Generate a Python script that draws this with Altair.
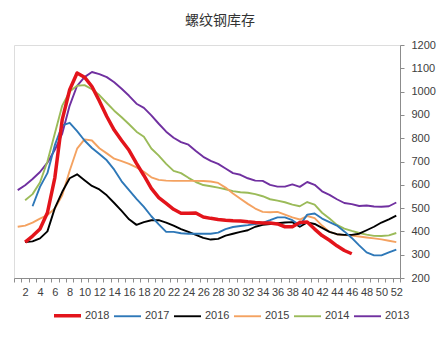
import altair as alt
import pandas as pd

# ---- data ----
years = ["2018", "2017", "2016", "2015", "2014", "2013"]
colors = ["#E3141B", "#2E78B8", "#000000", "#F4A261", "#9BBB59", "#7030A0"]
widths = [3.5, 1.9, 1.9, 1.9, 1.9, 1.9]

start_2018 = 2
v2018 = [354, 380, 410, 480, 630, 880, 1008, 1080, 1062, 1022, 960, 893, 835, 790, 748,
         692, 640, 585, 545, 520, 495, 478, 478, 479, 462, 456, 451, 448, 446, 445, 441,
         438, 436, 436, 432, 420, 420, 438, 440, 410, 382, 362, 338, 318, 304]

start_2017 = 3
v2017 = [508, 591, 650, 770, 855, 866, 830, 790, 758, 732, 705, 665, 615, 577, 540, 505,
         465, 430, 398, 398, 392, 390, 390, 390, 390, 395, 410, 419, 423, 427, 432, 437,
         448, 460, 460, 448, 426, 472, 477, 455, 440, 425, 400, 372, 340, 310, 297, 297,
         310, 322]

start_2016 = 2
v2016 = [354, 357, 370, 400, 500, 570, 628, 645, 620, 595, 580, 555, 522, 488, 452, 428,
         440, 448, 448, 438, 425, 410, 398, 385, 372, 365, 368, 382, 390, 398, 405, 420,
         428, 432, 435, 438, 440, 420, 438, 432, 415, 398, 388, 385, 385, 390, 405, 420,
         438, 452, 468]

start_2015 = 1
v2015 = [420, 425, 438, 455, 470, 498, 555, 660, 755, 795, 790, 757, 735, 712, 702, 690,
         675, 656, 632, 621, 618, 617, 617, 617, 617, 616, 614, 608, 588, 563, 540, 518,
         498, 484, 482, 484, 472, 460, 451, 466, 457, 425, 398, 388, 384, 382, 378, 374,
         370, 366, 360, 354]

start_2014 = 2
v2014 = [534, 560, 610, 700, 820, 940, 1000, 1025, 1028, 1010, 985, 951, 918, 890, 860,
         828, 806, 756, 725, 690, 660, 650, 630, 612, 599, 594, 588, 581, 573, 568, 566,
         560, 551, 538, 532, 525, 515, 508, 526, 515, 480, 455, 428, 412, 402, 393, 386,
         381, 380, 383, 393]

start_2013 = 1
v2013 = [577, 598, 625, 655, 695, 750, 820, 940, 1025, 1062, 1084, 1075, 1062, 1040,
         1012, 982, 948, 930, 898, 862, 828, 802, 783, 772, 745, 720, 703, 690, 670, 650,
         643, 628, 618, 617, 600, 592, 592, 602, 591, 612, 600, 572, 557, 538, 522, 517,
         509, 511, 507, 506, 508, 524]

x_tick_values = [i + 0.5 for i in range(53)]
y_tick_values = list(range(200, 1300, 100))

series = [
    ("2013", start_2013, v2013),
    ("2014", start_2014, v2014),
    ("2015", start_2015, v2015),
    ("2016", start_2016, v2016),
    ("2017", start_2017, v2017),
    ("2018", start_2018, v2018),
]
rows = []
for name, start, vals in series:
    for i, v in enumerate(vals):
        rows.append({"year": name, "week": start + i, "value": v})
df = pd.DataFrame(rows)

legend_kw = dict(
    title=None, orient="none", legendX=38, legendY=255, direction="horizontal",
    columns=6, symbolType="stroke", symbolSize=729, labelOffset=2, columnPadding=0,
    labelFont="Liberation Sans", labelFontSize=11, labelColor="#404040",
)

chart = alt.Chart(df).mark_line(strokeJoin="round", strokeCap="butt").encode(
    x=alt.X("week:Q",
            scale=alt.Scale(domain=[0.5, 52.5], nice=False, zero=False),
            axis=alt.Axis(title=None, values=x_tick_values, grid=False,
                          labelExpr="(datum.value + 0.5) % 2 == 0 ? format(datum.value + 0.5, 'd') : ''",
                          labelOffset=3.7, labelOverlap=False, labelFlush=False,
                          labelFont="Liberation Sans", labelFontSize=11, labelColor="#404040",
                          labelPadding=4, tickSize=4, tickColor="#8C8C8C",
                          domainColor="#8C8C8C")),
    y=alt.Y("value:Q",
            scale=alt.Scale(domain=[200, 1200], nice=False, zero=False),
            axis=alt.Axis(title=None, orient="right", values=y_tick_values, grid=False,
                          format="d",
                          labelFont="Liberation Sans", labelFontSize=11, labelColor="#404040",
                          labelPadding=7, tickSize=4, tickColor="#8C8C8C",
                          domainColor="#8C8C8C")),
    color=alt.Color("year:N", scale=alt.Scale(domain=years, range=colors),
                    legend=alt.Legend(**legend_kw)),
    strokeWidth=alt.StrokeWidth("year:N",
                                scale=alt.Scale(type="ordinal", domain=years, range=widths),
                                legend=alt.Legend(**legend_kw)),
    order=alt.Order("week:Q"),
).properties(
    width=386, height=233,
    title=alt.Title("螺纹钢库存", font="Noto Sans CJK SC", fontSize=14, fontWeight="normal",
                    color="#333333", offset=11, dx=13),
    padding={"left": 14, "top": 45, "right": 44, "bottom": 61},
    autosize=alt.AutoSizeParams(type="none"),
).configure_view(stroke=None).configure(background="white")

chart.save("out.html", embed_options={"renderer": "svg", "actions": False})
